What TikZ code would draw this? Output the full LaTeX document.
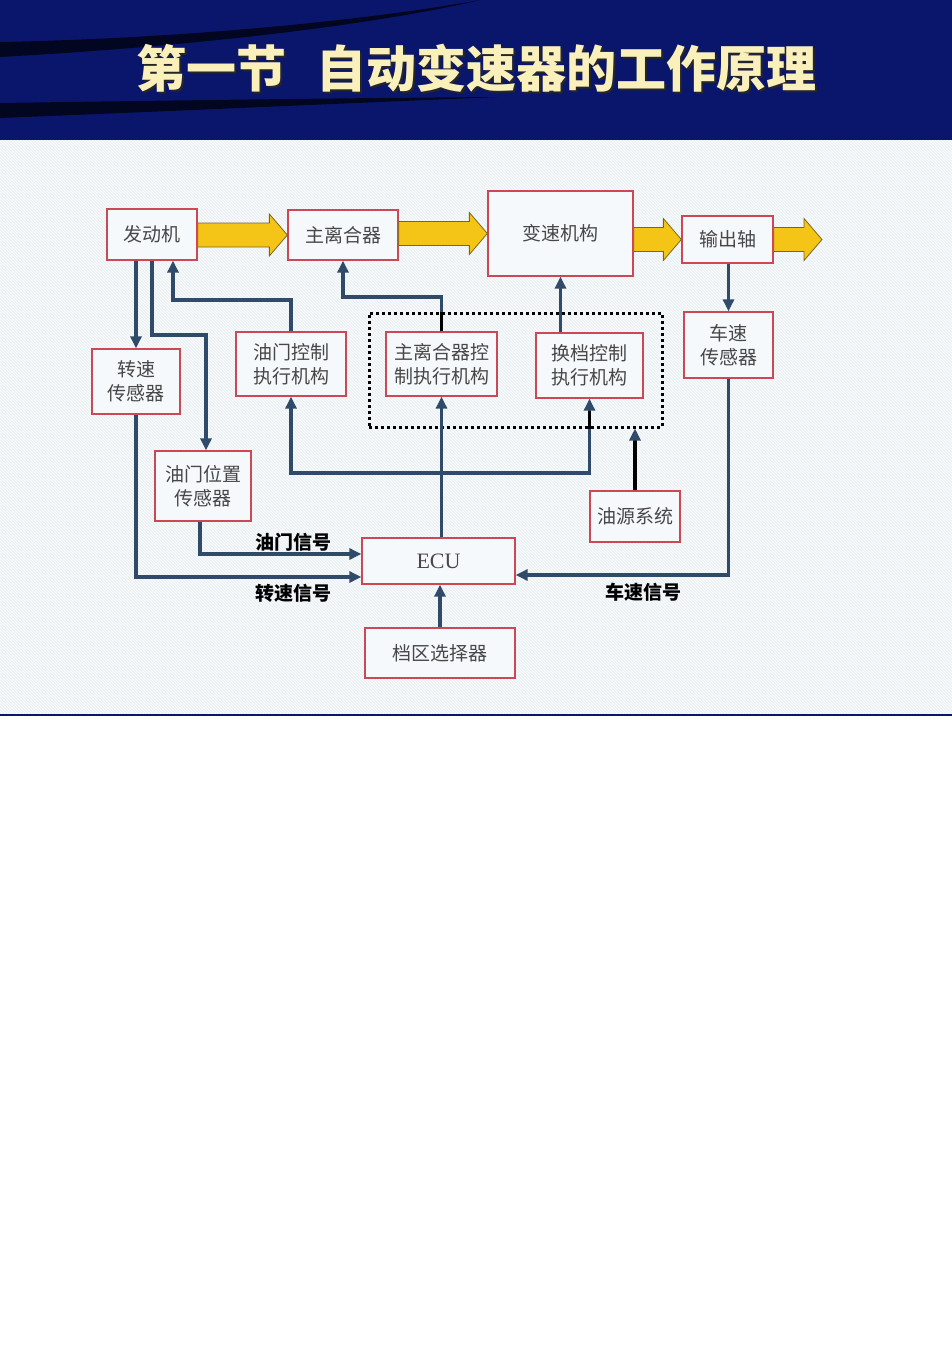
\documentclass[tikz,border=0pt]{standalone}
\usepackage{fontspec}
\usepackage{xcolor}
\usepackage{tikz}
\usetikzlibrary{arrows.meta}
\usetikzlibrary{calc}
\usetikzlibrary{patterns}
\newfontfamily\cjk{Noto Sans CJK SC}
\newfontfamily\ecufont{Liberation Serif}
\definecolor{navy}{RGB}{10,22,108}
\definecolor{sigblue}{RGB}{48,74,106}
\definecolor{boxred}{RGB}{204,72,84}
\definecolor{boxfill}{RGB}{246,249,251}
\definecolor{gold}{RGB}{244,196,22}
\definecolor{goldedge}{RGB}{120,104,30}
\definecolor{paper}{RGB}{236,241,245}
\definecolor{titlecol}{RGB}{250,240,188}
\colorlet{boxtext}{black!72}
\tikzstyle{box}=[draw=boxred,line width=1.3pt,fill=boxfill,text=boxtext,inner sep=0pt,align=center,font=\cjk\fontsize{19}{24}\selectfont]
\tikzstyle{sighead}=[>/.tip={Triangle[length=12pt,width=11pt]}]
\tikzstyle{sig}=[line width=3.2pt,sigblue,sighead,->]
\tikzstyle{oilfeed}=[line width=3.2pt,black,-{Triangle[length=12pt,width=11pt,color=sigblue]}]
\tikzstyle{siglabel}=[inner sep=0pt,text=black,font=\cjk\bfseries\fontsize{19}{19}\selectfont]
\tikzstyle{fat}=[fill=gold,draw=goldedge,line width=.8pt,line join=miter]
\tikzstyle{titletext}=[font=\cjk\bfseries\fontsize{50}{50}\selectfont]
\newcommand\fatarrow[2]{%
  \filldraw[fat] ($(#1 |- #2)+(0,-12)$) -- ($(#2)+(-18,-12)$) -- ($(#2)+(-18,-21)$) -- (#2)
    -- ($(#2)+(-18,21)$) -- ($(#2)+(-18,12)$) -- ($(#1 |- #2)+(0,12)$) -- cycle;}

\begin{document}
\begin{tikzpicture}[x=1pt,y=-1pt]
	\useasboundingbox (0,0) rectangle (952,1347);
	\fill[white] (0,0) rectangle (952,1347);
	\fill[navy] (0,0) rectangle (952,140);
	\fill[black,opacity=.7] (0,42) .. controls (200,38) and (380,18) .. (480,0) .. controls (380,24) and (200,46) .. (0,57) -- cycle;
	\fill[black,opacity=.7] (0,103) .. controls (200,100) and (350,98) .. (500,97) .. controls (350,103) and (200,110) .. (0,118) -- cycle;
	\node[titletext,text=black!85] (titleshade) at (478.5,70.5) {第一节\hspace{0.6em}自动变速器的工作原理};
	\node[titletext,text=titlecol] (title) at (476,68) {第一节\hspace{0.6em}自动变速器的工作原理};
	\fill[paper] (0,140) rectangle (952,715);
	\fill[pattern=north west lines,pattern color=white] (0,140) rectangle (952,715);
	\draw[navy,line width=1.5pt] (0,715) -- (952,715);

	\node[draw,line width=3pt,dash pattern=on 3pt off 3pt,minimum width=293pt,minimum height=114pt,inner sep=0pt] (ctrl) at (515.5,370) {};
	\node[box,minimum width=90pt,minimum height=51pt] (eng) at (152,234.5) {发动机};
	\node[box,minimum width=110pt,minimum height=50pt] (clu) at (343,235) {主离合器};
	\node[box,minimum width=145pt,minimum height=85pt] (gear) at (560.5,233.5) {变速机构};
	\node[box,minimum width=91pt,minimum height=47pt] (outp) at (727.5,239.5) {输出轴};
	\node[box,minimum width=88pt,minimum height=65pt] (spd) at (136,381.5) {转速\\传感器};
	\node[box,minimum width=110pt,minimum height=64pt] (thra) at (291,364) {油门控制\\执行机构};
	\node[box,minimum width=111pt,minimum height=64pt] (clua) at (441.5,364) {主离合器控\\制执行机构};
	\node[box,minimum width=107pt,minimum height=65pt] (shfa) at (589.5,365.5) {换档控制\\执行机构};
	\node[box,minimum width=89pt,minimum height=66pt] (vsp) at (728.5,345) {车速\\传感器};
	\node[box,minimum width=96pt,minimum height=70pt] (tps) at (203,486) {油门位置\\传感器};
	\node[box,minimum width=90pt,minimum height=51pt] (oil) at (635,516.5) {油源系统};
	\node[box,minimum width=153pt,minimum height=46pt,font=\ecufont\fontsize{22}{24}\selectfont] (ecu) at (438.5,561) {ECU};
	\node[box,minimum width=150pt,minimum height=50pt] (sel) at (440,653) {档区选择器};

	\coordinate (shaft) at (822,239.5);
	\fatarrow{eng.east}{clu.west}
	\fatarrow{clu.east}{gear.west}
	\fatarrow{gear.east}{outp.west}
	\fatarrow{outp.east}{shaft}

	\coordinate (tbend) at (206,335);
	\coordinate (ebend) at (173,300);
	\coordinate (cbend) at (343,297);
	\coordinate (bus) at (441.5,473);
	\draw[sig] (eng.south -| spd.north) -- (spd.north);
	\draw[sig] (eng.south) |- (tbend) -- (tbend |- tps.north);
	\draw[sig] (thra.north) |- (ebend) -- (ebend |- eng.south);
	\draw[sig] (clua.north) |- (cbend) -- (clu.south);
	\draw[line width=3.2pt,black] (clua.north) -- (clua.north |- ctrl.north);
	\draw[sig] (shfa.north -| gear.south) -- (gear.south);
	\draw[sig] (ecu.north -| clua.south) -- (clua.south);
	\draw[sig,<->] (thra.south) |- (bus) -| (shfa.south);
	\draw[line width=3.2pt,black] ([yshift=-12pt]shfa.south) -- (shfa.south |- ctrl.south);
	\draw[oilfeed] (oil.north) -- (oil.north |- ctrl.south);
	\draw[sig] (outp.south -| vsp.north) -- (vsp.north);
	\draw[sig] (vsp.south) |- node[pos=.7,below=6pt,siglabel]{车速信号} ([yshift=-14pt]ecu.east);
	\draw[sig] ([xshift=-3pt]tps.south) |- node[pos=.79,above=1pt,siglabel]{油门信号} ([yshift=7pt]ecu.west);
	\draw[sig] (spd.south) |- node[pos=.85,below=6pt,siglabel]{转速信号} ([yshift=-16pt]ecu.west);
	\draw[sig] (sel.north) -- (sel.north |- ecu.south);
\end{tikzpicture}
\end{document}
